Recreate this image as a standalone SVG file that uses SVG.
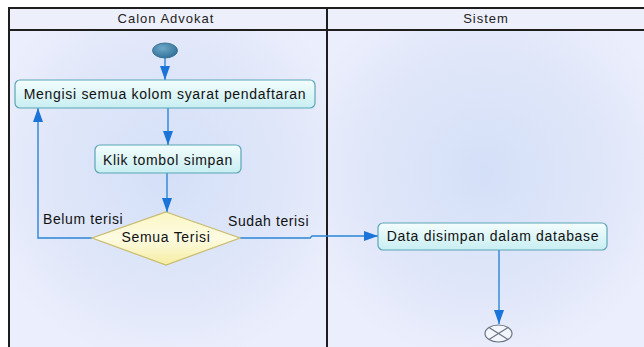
<svg xmlns="http://www.w3.org/2000/svg" width="644" height="347" viewBox="0 0 644 347">
  <defs>
    <radialGradient id="laneFill" cx="0.5" cy="0.45" r="0.6">
      <stop offset="0" stop-color="#d4e0f8"/>
      <stop offset="0.6" stop-color="#dfe6f9"/>
      <stop offset="1" stop-color="#ebeefc"/>
    </radialGradient>
    <linearGradient id="actFill" x1="0" y1="0" x2="0" y2="1">
      <stop offset="0" stop-color="#f4fdfd"/>
      <stop offset="1" stop-color="#c8eef2"/>
    </linearGradient>
    <linearGradient id="decFill" x1="0" y1="0" x2="0" y2="1">
      <stop offset="0" stop-color="#fbf6c4"/>
      <stop offset="0.5" stop-color="#fdfbe2"/>
      <stop offset="1" stop-color="#f6eda0"/>
    </linearGradient>
    <radialGradient id="startFill" cx="0.4" cy="0.35" r="0.7">
      <stop offset="0" stop-color="#6fa8c8"/>
      <stop offset="1" stop-color="#2f6f97"/>
    </radialGradient>
    <marker id="arrow" viewBox="0 0 14 10" refX="14" refY="5" markerWidth="14" markerHeight="10" markerUnits="userSpaceOnUse" orient="auto">
      <path d="M0,0 L14,5 L0,10 Z" fill="#1b74d8"/>
    </marker>
    <style>
      .lane { fill: url(#laneFill); }
      .header { fill: #edf0fb; }
      .frame { fill: none; stroke: #1e1e1e; stroke-width: 2; }
      .hdr { font-family: "Liberation Sans", Arial, sans-serif; font-size: 13px; letter-spacing: 1px; fill: #222; text-anchor: middle; }
      .label { font-family: "Liberation Sans", Arial, sans-serif; font-size: 14px; letter-spacing: 0.7px; fill: #111; }
      .act { fill: url(#actFill); stroke: #5ba6b6; stroke-width: 1.2; }
      .dec { fill: url(#decFill); stroke: #c9bb6e; stroke-width: 1.2; }
      .flow { fill: none; stroke: #2b85d6; stroke-width: 1.4; marker-end: url(#arrow); }
      .mid { text-anchor: middle; }
    </style>
  </defs>

  <!-- swimlanes -->
  <rect x="0" y="0" width="644" height="347" fill="#ffffff"/>
  <rect class="lane" x="9" y="30" width="318" height="317"/>
  <rect class="lane" x="327" y="30" width="317" height="317"/>
  <rect class="header" x="9" y="8" width="635" height="22"/>
  <path class="frame" d="M9,347 V8 H645 M9,30 H645 M327,8 V347"/>
  <text class="hdr" x="166" y="23">Calon Advokat</text>
  <text class="hdr" x="486" y="23">Sistem</text>

  <!-- connectors -->
  <g id="connectors">
    <path class="flow" d="M165,58 V80"/>
    <path class="flow" d="M168,108 V145"/>
    <path class="flow" d="M167,173 V212"/>
    <path class="flow" d="M92,238 H38 V108"/>
    <path class="flow" d="M240,238 H310 L312,236 H378"/>
    <path class="flow" d="M499,250 V324"/>
    <text class="label" x="43" y="224" style="letter-spacing:0.6px">Belum terisi</text>
    <text class="label" x="228" y="226" style="letter-spacing:0.6px">Sudah terisi</text>
  </g>

  <g id="start">
    <ellipse cx="165" cy="50.5" rx="12.5" ry="7.5" fill="url(#startFill)" stroke="#2a6688" stroke-width="0.8"/>
  </g>

  <g id="isi-kolom">
    <rect class="act" x="15" y="80" width="300" height="28" rx="5"/>
    <text class="label mid" x="165" y="99">Mengisi semua kolom syarat pendaftaran</text>
  </g>

  <g id="klik-simpan">
    <rect class="act" x="95" y="145" width="146" height="28" rx="5"/>
    <text class="label mid" x="168" y="165">Klik tombol simpan</text>
  </g>

  <g id="semua-terisi">
    <polygon class="dec" points="166,212 240,238 166,265 92,238"/>
    <text class="label mid" x="166" y="242">Semua Terisi</text>
  </g>

  <g id="simpan-database">
    <rect class="act" x="378" y="223" width="229" height="27" rx="5"/>
    <text class="label mid" x="493" y="241">Data disimpan dalam database</text>
  </g>

  <g id="end">
    <ellipse cx="498.5" cy="333.5" rx="13.5" ry="8.5" fill="#f4f6fd" stroke="#6a7480" stroke-width="1.2"/>
    <path d="M489,327.5 L508,339.5 M508,327.5 L489,339.5" stroke="#6a7480" stroke-width="1.2" fill="none"/>
  </g>
</svg>
